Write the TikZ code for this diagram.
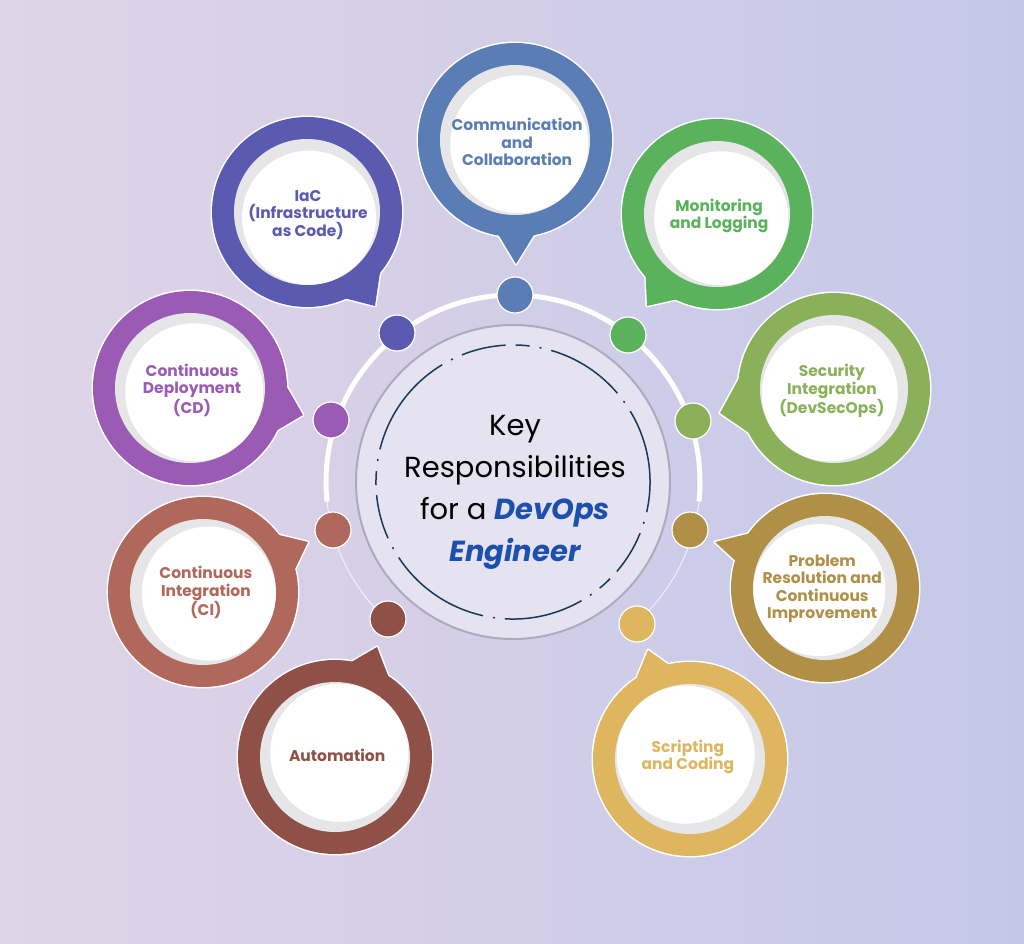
\documentclass[tikz,border=0pt]{standalone}
\usepackage{fontspec}
\setmainfont{Poppins}
\usetikzlibrary{calc}
\definecolor{bgL}{HTML}{E0D4E7}
\definecolor{bgR}{HTML}{C4C8E8}
\definecolor{cComm}{HTML}{5A7DB5}
\definecolor{cMon}{HTML}{5AB35C}
\definecolor{cSec}{HTML}{8AB15A}
\definecolor{cProb}{HTML}{B08F47}
\definecolor{cScr}{HTML}{DDB65F}
\definecolor{cAuto}{HTML}{8F5048}
\definecolor{cCI}{HTML}{B0675C}
\definecolor{cCD}{HTML}{9B5BB5}
\definecolor{cIaC}{HTML}{5A5BB0}
\definecolor{shadowgray}{HTML}{E6E6E8}
\definecolor{centerfill}{HTML}{E6E3F1}
\definecolor{centerborder}{HTML}{ADAABF}
\definecolor{navy}{HTML}{173A5C}
\definecolor{dblue}{HTML}{1D4FAF}
\tikzset{
  dot/.style={circle, minimum size=36pt, inner sep=0pt, draw=white, line width=1.2pt},
  lbl/.style={align=center, inner sep=0pt, font=\bfseries\fontsize{15.5}{17.5}\selectfont},
}
% #1 name, #2 colour, #3 centre, #4 radius, #5 apex, #6 base1, #7 base2, #8 shift angle, #9 text
\newcommand\mybubble[9]{%
  \coordinate (#1c) at (#3);
  \coordinate (#1a) at (#5);
  \coordinate (#1b1) at ($(#1c)!#4pt-4pt!(#6)$);
  \coordinate (#1b2) at ($(#1c)!#4pt-4pt!(#7)$);
  \draw[white, line width=3pt] (#1c) circle[radius=#4pt];
  \draw[white, line width=3pt, line join=round] (#1b1) -- (#1a) -- (#1b2) -- cycle;
  \fill[#2] (#1c) circle[radius=#4pt];
  \fill[#2] (#1b1) -- (#1a) -- (#1b2) -- cycle;
  \fill[shadowgray] (#1c) circle[radius=#4pt-22pt];
  \fill[white] ($(#1c)+(#8:6)$) circle[radius=#4pt-28pt];
  \node[lbl, text=#2] (#1) at ($(#1c)+(#8:3)$) {#9};
}
\begin{document}
\begin{tikzpicture}[x=1pt,y=-1pt]
\useasboundingbox (0,0) rectangle (1024,943);
\shade[left color=bgL, right color=bgR] (0,0) rectangle (1024,943);

\coordinate (O) at (513,482);
% ring through the dots
\draw[white, line width=5pt] ($(O)+(174:187)$) arc[start angle=174, end angle=366, radius=187];
\draw[white, opacity=0.7, line width=1pt] ($(O)+(6:187)$) arc[start angle=6, end angle=50, radius=187];
\draw[white, opacity=0.7, line width=1pt] ($(O)+(174:187)$) arc[start angle=174, end angle=131, radius=187];

% centre
\fill[centerfill] (O) circle[radius=157pt];
\draw[centerborder, line width=2pt] (O) circle[radius=157pt];
\draw[navy, line width=1.5pt, dash pattern=on 105pt off 10pt on 2pt off 10pt on 45pt off 10pt on 14pt off 10pt on 2pt off 10pt on 80pt off 10pt on 2pt off 10pt]
  ($(O)+(195:137)$) arc[start angle=195, end angle=555, radius=137];
\node[align=center, inner sep=0pt, font=\fontsize{29}{42}\selectfont] (title) at (515,492)
  {Key\\Responsibilities\\for a {\color{dblue}\bfseries\itshape DevOps}\\{\color{dblue}\bfseries\itshape Engineer}};

% bubbles
\mybubble{comm}{cComm}{515,140}{97}{516,264}{495,237}{538,236}{45}{Communication\\and\\Collaboration}
\mybubble{mon}{cMon}{717,214}{95}{647,306}{643,272}{680,303}{45}{Monitoring\\and Logging}
\mybubble{sec}{cSec}{834,389}{96}{720,413}{742,368}{752,440}{135}{Security\\Integration\\(DevSecOps)}
\mybubble{prob}{cProb}{825,588}{94}{715,542}{752,530}{733,562}{160}{Problem\\Resolution and\\Continuous\\Improvement}
\mybubble{scr}{cScr}{690,759}{97}{648,650}{633,684}{672,664}{225}{Scripting\\and Coding}
\mybubble{auto}{cAuto}{335,757}{97}{377,647}{347,662}{394,678}{315}{Automation}
\mybubble{ci}{cCI}{203,592}{95}{308,542}{272,534}{296,574}{15}{Continuous\\Integration\\(CI)}
\mybubble{cd}{cCD}{190,388}{97}{303,415}{277,380}{285,442}{45}{Continuous\\Deployment\\(CD)}
\mybubble{iac}{cIaC}{307,212}{95}{375,306}{383,266}{342,303}{70}{IaC\\(Infrastructure\\as Code)}

% dots
\node[dot, fill=cComm] (dcomm) at (515,295) {};
\node[dot, fill=cMon] (dmon) at (628,335) {};
\node[dot, fill=cSec] (dsec) at (693,421) {};
\node[dot, fill=cProb] (dprob) at (690,530) {};
\node[dot, fill=cScr] (dscr) at (637,624) {};
\node[dot, fill=cAuto] (dauto) at (388,619) {};
\node[dot, fill=cCI] (dci) at (333,530) {};
\node[dot, fill=cCD] (dcd) at (331,420) {};
\node[dot, fill=cIaC] (diac) at (397,333) {};
\end{tikzpicture}
\end{document}
